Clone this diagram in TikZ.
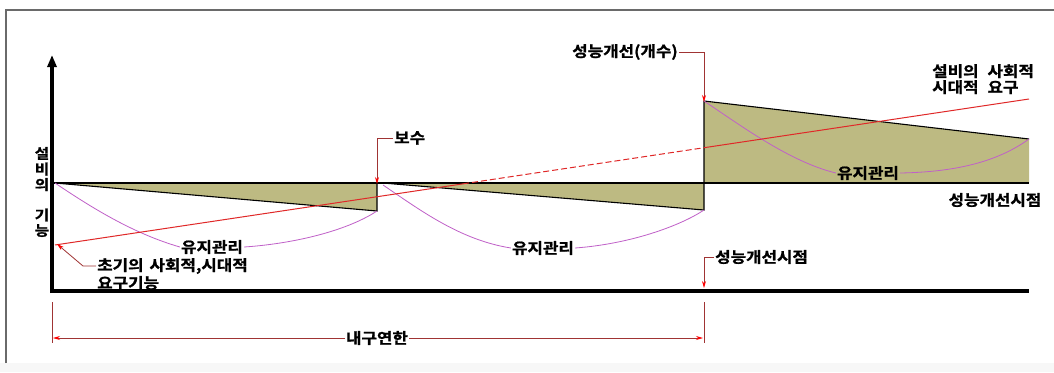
\documentclass[tikz,border=0pt]{standalone}
\usepackage{fontspec}
\newfontfamily\kr{Noto Sans CJK KR Bold}[FakeBold=1.2, FakeStretch=1.12]
\usetikzlibrary{arrows.meta}
\definecolor{olivefill}{HTML}{BDBA82}
\definecolor{curvecol}{HTML}{C060C8}
\definecolor{redline}{HTML}{E02828}
\definecolor{leader}{HTML}{A03434}
\definecolor{framecol}{HTML}{6A6A6A}
\newcommand{\wsp}{\hspace{0.6em}}
\begin{document}
\begin{tikzpicture}[x=1pt,y=-1pt,
  lbl/.style={font=\kr\fontsize{15}{16}\selectfont, inner sep=1pt},
  care/.style={curvecol, line width=0.8pt},
  edge/.style={black, line width=1.1pt},
  lead/.style={leader, line width=0.8pt},
  leadarr/.style={lead, -{Stealth[length=7pt,width=4pt,red]}},
  demand/.style={redline, line width=1pt}]
\useasboundingbox (0,0) rectangle (1054,372);
% frame
\fill[white] (0,0) rectangle (1054,372);
\fill[black!3] (0,363) rectangle (1054,372);
\draw[framecol, line width=1.5pt] (6,363) -- (6,10) -- (1058,10);
% coordinates
\coordinate (o) at (55,183);
\coordinate (t1) at (377,211);
\coordinate (t1top) at (377,183);
\coordinate (s2) at (383,183);
\coordinate (t2) at (704,210);
\coordinate (t2base) at (704,183);
\coordinate (t3) at (704,101);
\coordinate (t4) at (1029,139);
\coordinate (t4base) at (1029,183);
% fills
\fill[olivefill] (o) -- (t1) -- (t1top) -- cycle;
\fill[olivefill] (s2) -- (t2) -- (t2base) -- cycle;
\fill[olivefill] (t3) -- (t4) -- (t4base) -- (t2base) -- cycle;
% edges
\draw[edge] (52,183) -- (t4base);
\draw[edge] (o) -- (t1) -- (t1top);
\draw[edge] (s2) -- (t2) -- (t3) -- (t4);
% maintenance labels
\node[lbl] (m1) at (212,247) {유지관리};
\node[lbl] (m2) at (543,248) {유지관리};
\node[lbl] (m3) at (868,173) {유지관리};
% maintenance curves
\draw[care] (o) .. controls (95,210) and (135,234) .. (m1.west);
\draw[care] (m1.east) .. controls (290,244) and (345,232) .. (t1);
\draw[care] ([yshift=-2pt]s2) .. controls (420,210) and (460,240) .. (m2.west);
\draw[care] (m2.east) .. controls (630,244) and (680,226) .. (t2);
\draw[care] (t3) .. controls (740,125) and (790,162) .. (m3.west);
\draw[care] (m3.east) .. controls (960,172) and (1000,160) .. (t4);
% social demand line
\coordinate (dA) at (55,245);
\coordinate (dB) at (1029,99);
\path (dA) -- (dB) coordinate[pos=0.419] (dP1) coordinate[pos=0.666] (dP2);
\draw[demand] (dA) -- (dP1);
\draw[demand, dash pattern=on 6pt off 3pt] (dP1) -- (dP2);
\draw[demand] (dP2) -- (dB);
% axes
\draw[line width=4pt, -{Triangle[length=12pt,width=9pt]}] (52,293) -- (52,55);
\draw[line width=4pt] (50,291) -- (1029,291);
% y label
\node[lbl, align=center, font=\kr\fontsize{14}{15.5}\selectfont] (ylab) at (42,192) {설\\비\\의\\[15pt]기\\능};
% 보수
\node[lbl, anchor=west] (bosu) at (393,138) {보수};
\draw[leadarr] (bosu.west) -| ([yshift=-1pt]t1top);
% 성능개선(개수)
\node[lbl] (gaesu) at (625,52) {성능개선(개수)};
\draw[leadarr] (gaesu.east) -| ([yshift=-1pt]t3);
% 설비의 사회적 시대적 요구
\node[lbl, align=left, anchor=north west] (req) at (931,63) {설비의\wsp 사회적\\시대적\wsp 요구};
% 성능개선시점 right
\node[lbl] (pt1) at (995,200) {성능개선시점};
% 성능개선시점 bottom
\node[lbl, anchor=west] (pt2) at (714,257) {성능개선시점};
\coordinate (ax2) at (704,288);
\draw[leadarr] (pt2.west) -| (ax2);
% 초기의 사회적 시대적 요구기능
\node[lbl, anchor=west] (init1) at (96,266) {초기의\hspace{0.4em}사회적,시대적};
\node[lbl, anchor=west] (init2) at (96,283) {요구기능};
\coordinate (initbend) at (83,266);
\draw[leadarr] (init1.west) -- (initbend) -- ([shift={(2pt,1pt)}]dA);
% 내구연한
\coordinate (dimL1) at (52,302);
\coordinate (dimL2) at (52,343);
\coordinate (dimR1) at (704,302);
\coordinate (dimR2) at (704,343);
\draw[lead] (dimL1) -- (dimL2);
\draw[lead] (dimR1) -- (dimR2);
\node[lbl] (dur) at (377,338) {내구연한};
\draw[leadarr] (dur.west) -- (53,338);
\draw[leadarr] (dur.east) -- (703,338);
\end{tikzpicture}
\end{document}
